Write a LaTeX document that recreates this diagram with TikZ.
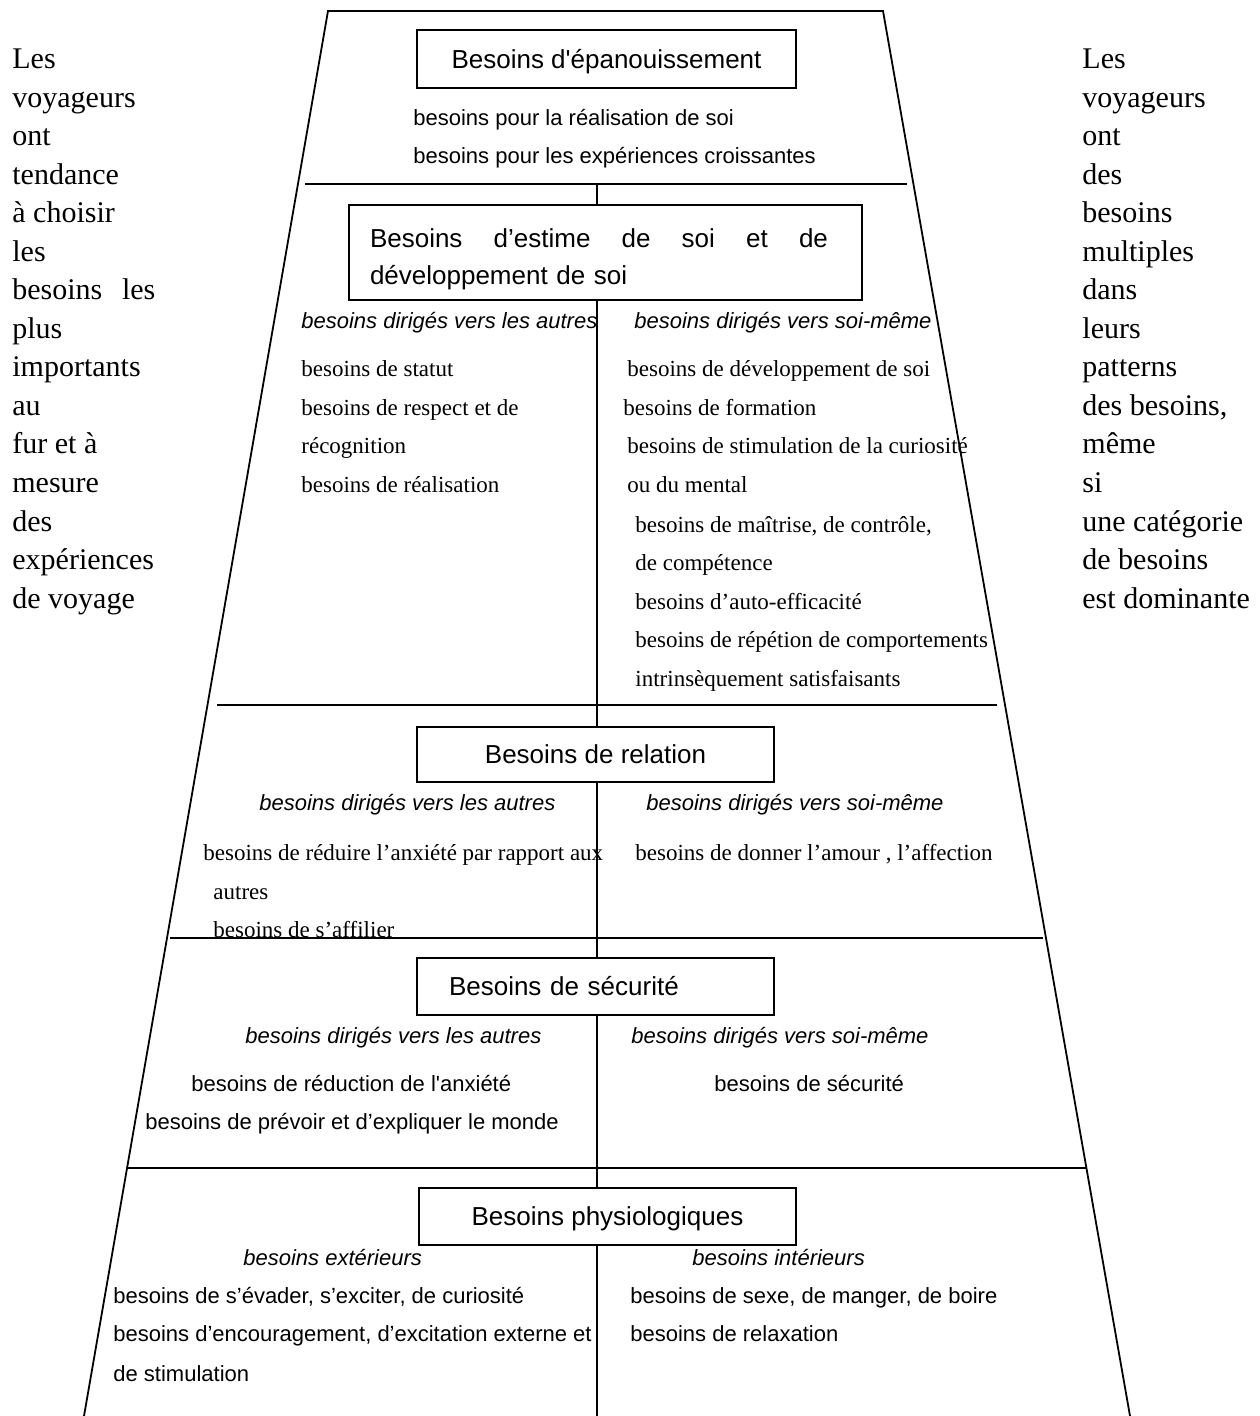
\documentclass[tikz,border=0pt]{standalone}
\usepackage{fontspec}
\setmainfont{Liberation Serif}
\newfontfamily\arial{Liberation Sans}
\usetikzlibrary{positioning}
\tikzset{
	%Define style for the level boxes
	niveau/.style={
		rectangle,
		draw=black, line width=0.9pt,
		fill=white,
		inner sep=0pt,
		font=\arial\fontsize{13}{18.5}\selectfont},
	% one line titles
	titre/.style={
		niveau,
		text height=9.3pt,
		text depth=0pt},
	% italic subheadings
	dirige/.style={
		anchor=base west,
		inner sep=0pt,
		font=\arial\itshape\fontsize{11}{13}\selectfont},
	% needs in sans
	besoin/.style={
		anchor=base west,
		inner sep=0pt,
		font=\arial\fontsize{11}{13}\selectfont},
	% needs in serif
	besoinr/.style={
		anchor=base west,
		inner sep=0pt,
		font=\fontsize{11.5}{13}\selectfont},
	% side columns
	cote/.style={
		anchor=base west,
		inner sep=0pt,
		font=\fontsize{15}{18}\selectfont},
	% lines
	trait/.style={line width=0.9pt}
}
\begin{document}
\begin{tikzpicture}[x=0.5pt, y=-0.5pt]
		\useasboundingbox (0,0) rectangle (1259,1416);
		% the pyramid
		\coordinate (hg) at (328,11);
		\coordinate (hd) at (883,11);
		\coordinate (bg) at (84,1416);
		\coordinate (bd) at (1130,1416);
		\draw[trait] (bg) -- (hg) -- (hd) -- (bd);
		% levels
		\draw[trait] (305,184) -- (907,184);
		\draw[trait] (217,705) -- (997,705);
		\draw[trait] (170,938) -- (1043,938);
		\draw[trait] (127,1168) -- (1086,1168);
		% middle axis, under the boxes
		\coordinate (axe) at (597,184);
		\coordinate (pied) at (597,1416);
		\draw[trait] (axe) -- (pied);
		%nodes
		\node[titre, minimum width=189.5pt, minimum height=29pt] (epan) at (606.5,59) {Besoins d'épanouissement};
		\node[niveau, minimum height=47.5pt, inner xsep=10.5pt, text width=235.5pt, align=left]
		(estime) at (605.5,252.5) {\rule{0pt}{16.7pt}\hbox to 229pt{Besoins\hfill d’estime\hfill de\hfill soi\hfill et\hfill de}\\développement de soi};
		\node[titre, minimum width=178.5pt, minimum height=27.5pt] (relation) at (595.5,754.5) {Besoins de relation};
		\node[titre, minimum height=28.5pt, inner xsep=16pt, text width=146.5pt, align=left]
		(securite) at (595.5,986.5) {Besoins de sécurité};
		\node[titre, minimum width=188.5pt, minimum height=28.5pt] (physio) at (607.5,1216.5) {Besoins physiologiques};
		% level 1
		\node[besoin] (e1) at (413,126) {besoins pour la réalisation de soi};
		\node[besoin] (e2) at (413,164) {besoins pour les expériences croissantes};
		% level 2
		\node[dirige] (d2a) at (301,329) {besoins dirigés vers les autres};
		\node[dirige] (d2b) at (634,329) {besoins dirigés vers soi-même};
		\node[besoinr] (s1) at (301,377) {besoins de statut};
		\node[besoinr] (s2) at (301,416) {besoins de respect et de};
		\node[besoinr] (s3) at (301,454) {récognition};
		\node[besoinr] (s4) at (301,493) {besoins de réalisation};
		\node[besoinr] (m1) at (627,377) {besoins de développement de soi};
		\node[besoinr] (m2) at (623,416) {besoins de formation};
		\node[besoinr] (m3) at (627,454) {besoins de stimulation de la curiosité};
		\node[besoinr] (m4) at (627,493) {ou du mental};
		\node[besoinr] (m5) at (635,532) {besoins de maîtrise, de contrôle,};
		\node[besoinr] (m6) at (635,570) {de compétence};
		\node[besoinr] (m7) at (635,609) {besoins d’auto-efficacité};
		\node[besoinr] (m8) at (635,647) {besoins de répétion de comportements};
		\node[besoinr] (m9) at (635,686) {intrinsèquement satisfaisants};
		% level 3
		\node[dirige] (d3a) at (259,810) {besoins dirigés vers les autres};
		\node[dirige] (d3b) at (646,810) {besoins dirigés vers soi-même};
		\node[besoinr] (r1) at (203,860) {besoins de réduire l’anxiété par rapport aux};
		\node[besoinr] (r2) at (213,899) {autres};
		\node[besoinr] (r3) at (213,937) {besoins de s’affilier};
		\node[besoinr] (r4) at (635,860) {besoins de donner l’amour , l’affection};
		% level 4
		\node[dirige] (d4a) at (245,1043) {besoins dirigés vers les autres};
		\node[dirige] (d4b) at (631,1043) {besoins dirigés vers soi-même};
		\node[besoin] (c1) at (191,1091) {besoins de réduction de l'anxiété};
		\node[besoin] (c2) at (145,1129) {besoins de prévoir et d’expliquer le monde};
		\node[besoin] (c3) at (714,1091) {besoins de sécurité};
		% level 5
		\node[dirige] (d5a) at (243,1265) {besoins extérieurs};
		\node[dirige] (d5b) at (692,1265) {besoins intérieurs};
		\node[besoin] (p1) at (113,1303) {besoins de s’évader, s’exciter, de curiosité};
		\node[besoin] (p2) at (113,1341) {besoins d’encouragement, d’excitation externe et};
		\node[besoin] (p3) at (113,1381) {de stimulation};
		\node[besoin] (p4) at (630,1303) {besoins de sexe, de manger, de boire};
		\node[besoin] (p5) at (630,1341) {besoins de relaxation};
		% side columns
		\foreach \mot [count=\i] in {Les, voyageurs, ont, tendance, à choisir, les,
			{\makebox[71.5pt][s]{besoins les}}, plus, importants, au, fur et à, mesure, des,
			expériences, de voyage}
			\node[cote] (g\i) at ({12},{69+38.5*(\i-1)}) {\mot};
		\foreach \mot [count=\i] in {Les, voyageurs, ont, des, besoins, multiples, dans,
			leurs, patterns, {des besoins,}, même, si, une catégorie, de besoins,
			est dominante}
			\node[cote] (d\i) at ({1082},{69+38.5*(\i-1)}) {\mot};
\end{tikzpicture}
\end{document}
